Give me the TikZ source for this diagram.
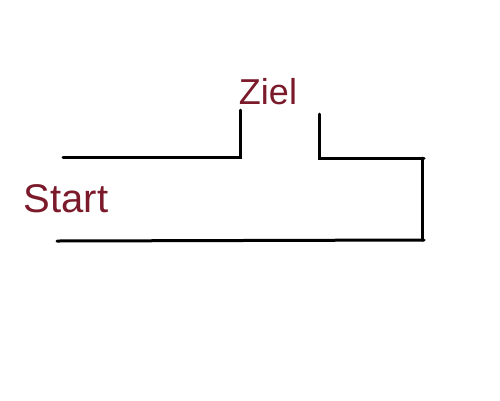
\documentclass[tikz,border=0pt]{standalone}
\usepackage{fontspec}
\setmainfont{Liberation Sans}
\definecolor{ink}{HTML}{7A1A2A}
\begin{document}
\begin{tikzpicture}[x=1pt,y=-1pt,
  wall/.style={line width=3pt,black,line cap=round,line join=miter},
  lbl/.style={text=ink,inner sep=0pt}]
\useasboundingbox (0,0) rectangle (500,400);
\coordinate (a1) at (63,157);
\coordinate (a2) at (240,157);
\coordinate (a3) at (240,110);
\coordinate (b1) at (319,114);
\coordinate (b2) at (319,158);
\coordinate (b3) at (424,158);
\coordinate (c1) at (422,158);
\coordinate (c2) at (422,240);
\coordinate (d1) at (57,241);
\coordinate (d2) at (424,240);
\draw[wall] (a1) -- (a2) -- (a3);
\draw[wall] (b1) -- (b2) -- (b3);
\draw[wall] (c1) -- (c2);
\draw[wall] (d1) -- (d2);
\node[lbl,font=\fontsize{36}{40}\selectfont] (ziel) at (268,92) {Ziel};
\node[lbl,font=\fontsize{40}{44}\selectfont] (start) at (66,199) {Start};
\end{tikzpicture}
\end{document}
